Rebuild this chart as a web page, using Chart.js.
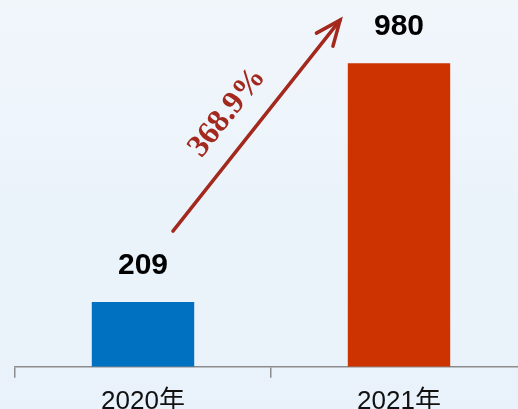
<!DOCTYPE html>
<html>
<head>
<meta charset="utf-8">
<script src="https://cdn.jsdelivr.net/npm/chart.js@4"></script>
<style>
  html, body { margin: 0; padding: 0; overflow: hidden; }
  body {
    width: 518px; height: 409px;
    background: linear-gradient(180deg, #f1f6fb 0%, #ebf3fa 50%, #e9f2fa 100%);
  }
  #wrap { position: absolute; left: 0; top: 0; width: 527px; height: 425px; }
</style>
</head>
<body>
<div id="wrap"><canvas id="barchart"></canvas></div>
<script>
const categories = ["2020年", "2021年"];
const values = [209, 980];
const barColors = ["#0070c0", "#cc3300"];
const growthLabel = "368.9%";

const ctx = document.getElementById("barchart");

// value labels above the bars + growth arrow
const annotate = {
  id: "annotate",
  afterDatasetsDraw(chart) {
    const c = chart.ctx;
    const meta = chart.getDatasetMeta(0);
    c.save();
    c.fillStyle = "#000";
    c.font = "bold 30px Arial, 'Liberation Sans', sans-serif";
    c.textAlign = "center";
    c.textBaseline = "alphabetic";
    meta.data.forEach((bar, i) => {
      c.fillText(String(values[i]), bar.x, bar.y - 28);
    });

    // arrow from above the first bar to beside the second
    const xs = chart.scales.x, ys = chart.scales.y;
    const x1 = xs.getPixelForValue(0.117), y1 = ys.getPixelForValue(438);
    const x2 = xs.getPixelForValue(0.77), y2 = ys.getPixelForValue(1119);
    const ang = Math.atan2(y2 - y1, x2 - x1);
    c.strokeStyle = "#a3281d";
    c.lineWidth = 3.5;
    c.lineCap = "round";
    c.beginPath();
    c.moveTo(x1, y1);
    c.lineTo(x2, y2);
    c.stroke();
    const wing = 27, spread = 0.4;
    c.beginPath();
    c.moveTo(x2 - wing * Math.cos(ang - spread), y2 - wing * Math.sin(ang - spread));
    c.lineTo(x2, y2);
    c.lineTo(x2 - wing * Math.cos(ang + spread), y2 - wing * Math.sin(ang + spread));
    c.stroke();

    const mx = (x1 + x2) / 2, my = (y1 + y2) / 2;
    const ux = Math.cos(ang), uy = Math.sin(ang);
    const tx = mx - 8 * ux + 31 * uy;
    const ty = my - 8 * uy - 31 * ux;
    c.translate(tx, ty);
    c.rotate(ang);
    c.fillStyle = "#a3281d";
    c.font = "bold 32px 'Times New Roman', 'Liberation Serif', serif";
    c.textAlign = "center";
    c.textBaseline = "middle";
    c.fillText(growthLabel, 0, 0);
    c.restore();
  },
};

new Chart(ctx, {
  type: "bar",
  data: {
    labels: categories,
    datasets: [
      {
        data: values,
        backgroundColor: barColors,
        barPercentage: 0.8,
        categoryPercentage: 0.5,
        borderWidth: 0,
      },
    ],
  },
  options: {
    responsive: true,
    maintainAspectRatio: false,
    animation: false,
    layout: { padding: { left: 15, right: 0, top: 0, bottom: 0 } },
    plugins: {
      legend: { display: false },
      tooltip: { enabled: false },
    },
    scales: {
      x: {
        grid: {
          display: true,
          drawOnChartArea: false,
          drawTicks: true,
          tickLength: 11,
          color: "#8c8c8c",
          lineWidth: 1.5,
        },
        border: { display: true, color: "#8c8c8c", width: 1.5 },
        ticks: {
          color: "#111",
          padding: 8,
          font: { size: 26, family: "Arial, 'Liberation Sans', 'Noto Sans CJK SC', sans-serif" },
        },
      },
      y: {
        display: false,
        min: 0,
        max: 1184,
      },
    },
  },
  plugins: [annotate],
});
</script>
</body>
</html>
